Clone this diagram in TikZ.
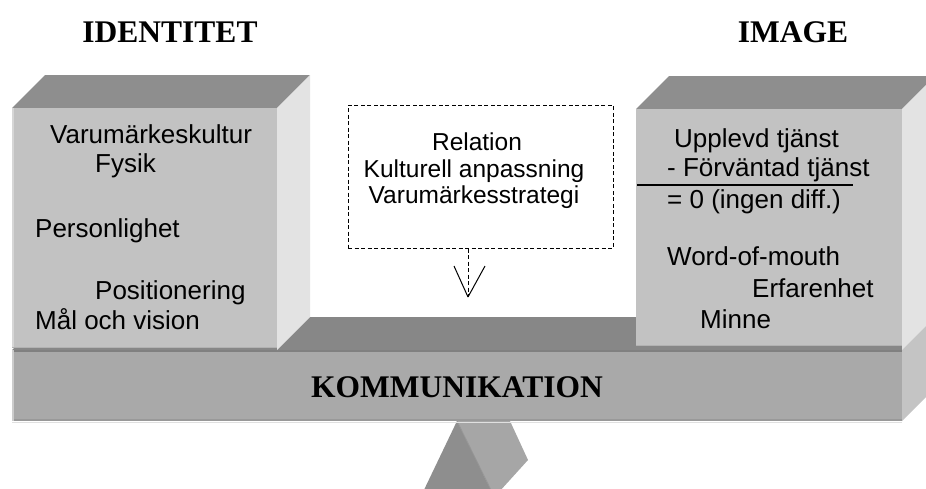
\documentclass[tikz,border=0pt]{standalone}
\usepackage{fontspec}
\setmainfont{Liberation Serif}
\setsansfont{Liberation Sans}
\definecolor{frontgray}{HTML}{C2C2C2}
\definecolor{topgray}{HTML}{8E8E8E}
\definecolor{sidegray}{HTML}{E3E3E3}
\definecolor{beamfront}{HTML}{A9A9A9}
\definecolor{beamtop}{HTML}{878787}
\definecolor{beamside}{HTML}{C4C4C4}
\definecolor{footdark}{HTML}{8E8E8E}
\definecolor{footlight}{HTML}{A6A6A6}
\begin{document}
\begin{tikzpicture}[x=1pt,y=-1pt,
  title/.style={font=\fontsize{31.5}{36}\selectfont\rmfamily\bfseries, inner sep=0pt},
  boxtext/.style={font=\fontsize{26}{30}\selectfont\sffamily, inner sep=0pt, anchor=base west},
  midtext/.style={font=\fontsize{24.5}{27}\selectfont\sffamily, inner sep=0pt, anchor=base},
  dashbox/.style={draw, line width=1pt, dash pattern=on 4pt off 2.5pt, minimum width=265pt, minimum height=143pt, inner sep=0pt}]
\useasboundingbox (0,0) rectangle (926,488);
\clip (0,0) rectangle (926,488);

% fulcrum under the beam
\fill[footdark] (457,421) -- (423,492) -- (492,492) -- cycle;
\fill[footlight] (457,421) -- (510,421) -- (528,460) -- (499,492) -- (492,492) -- cycle;
\draw[footlight!90!black, line width=0.8pt] (457,421) -- (492,492);

% beam: top face, front face, side face
\fill[beamtop] (12,350) -- (45,317) -- (935,317) -- (902,350) -- cycle;
\fill[beamfront] (12,350) rectangle (902,421);
\fill[beamside] (902,350) -- (935,317) -- (935,388) -- (902,421) -- cycle;
\draw[beamtop!95!black, line width=2pt] (12,351) -- (902,351);
\draw[black!40, line width=1.5pt] (12,420) -- (902,420);
\draw[black!12, line width=1pt] (12,422) -- (902,422);
\draw[black!20, line width=1.5pt] (13,350) -- (13,421);

% left block
\fill[topgray] (12,108) -- (45,75) -- (310,75) -- (277,108) -- cycle;
\fill[sidegray] (277,108) -- (310,75) -- (310,317) -- (277,350) -- cycle;
\fill[frontgray] (12,108) rectangle (277,348);
\draw[black!16, line width=1.5pt] (13,108) -- (13,348);
\draw[black!30, line width=1pt] (12,347.5) -- (277,347.5);

% right block
\fill[topgray] (636,109) -- (669,76) -- (935,76) -- (902,109) -- cycle;
\fill[sidegray] (902,109) -- (935,76) -- (935,317) -- (902,350) -- cycle;
\fill[frontgray] (636,109) rectangle (902,346);
\draw[black!30, line width=1pt] (636,345.5) -- (902,345.5);

% titles
\node[title, anchor=base] (ident) at (170,42) {IDENTITET};
\node[title, anchor=base] (image) at (793,42) {IMAGE};
\node[title, anchor=base] (komm) at (457,397) {KOMMUNIKATION};

% identity attributes
\node[boxtext] (kultur) at (50,143) {Varumärkeskultur};
\node[boxtext] (fysik) at (95,172) {Fysik};
\node[boxtext] (person) at (35,237) {Personlighet};
\node[boxtext] (posit) at (95,299) {Positionering};
\node[boxtext] (mal) at (35,329) {Mål och vision};

% image attributes
\node[boxtext] (upplevd) at (674,147) {Upplevd tjänst};
\node[boxtext] (forvant) at (667,176) {- Förväntad tjänst};
\node[boxtext] (diff) at (667,208) {= 0 (ingen diff.)};
\node[boxtext] (wom) at (667,265) {Word-of-mouth};
\node[boxtext] (erf) at (752,297) {Erfarenhet};
\node[boxtext] (minne) at (700,328) {Minne};
\coordinate (sumL) at (637,185);
\coordinate (sumR) at (853,185);
\draw[line width=1.3pt] (sumL) -- (sumR);

% middle box with arrow
\node[dashbox] (rel) at (480.5,176.5) {};
\node[midtext] (relation) at (477,150) {Relation};
\node[midtext] (kult) at (474,177) {Kulturell anpassning};
\node[midtext] (strat) at (474,203.5) {Varumärkesstrategi};
\coordinate (tip) at (468,297);
\draw[line width=1pt, dash pattern=on 4pt off 2.5pt] (rel.south -| tip) -- (tip);
\draw[line width=1pt] (tip) -- ++(-14,-31);
\draw[line width=1pt] (tip) -- ++(17,-31);
\end{tikzpicture}
\end{document}
